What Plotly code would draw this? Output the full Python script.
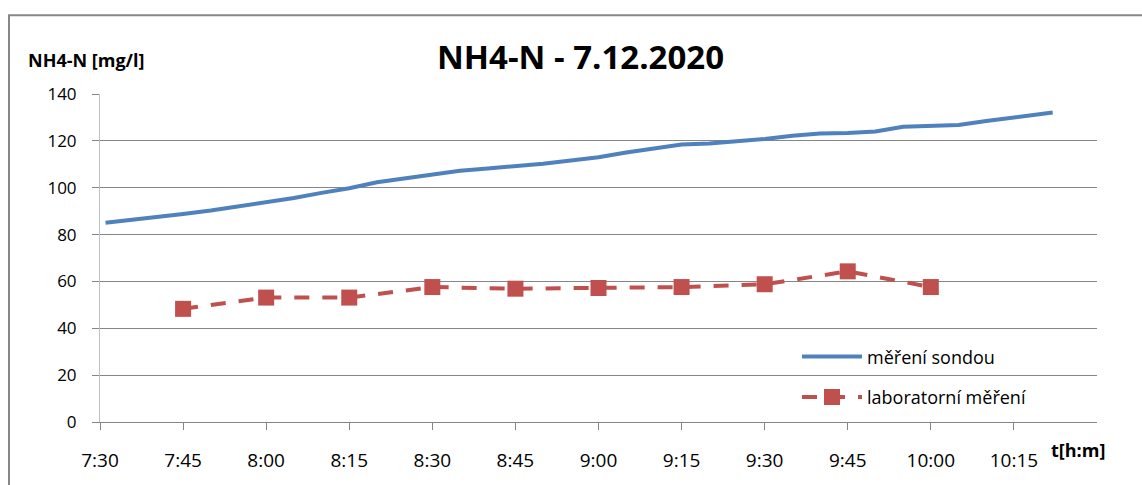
import plotly.graph_objects as go

DAY = "2020-12-07 "

# Probe readings (continuous measurement)
probe_times = ["07:31", "07:35", "07:40", "07:45", "07:50", "07:55", "08:00", "08:05",
               "08:10", "08:15", "08:20", "08:25", "08:30", "08:35", "08:40", "08:45",
               "08:50", "08:55", "09:00", "09:05", "09:10", "09:15", "09:20", "09:25",
               "09:30", "09:35", "09:40", "09:45", "09:50", "09:55", "10:00", "10:05",
               "10:10", "10:15", "10:22"]
probe_values = [85.0, 86.0, 87.5, 88.8, 90.3, 92.0, 93.6, 95.6,
                97.8, 99.8, 102.3, 103.8, 105.4, 107.2, 108.2, 109.0,
                110.2, 111.6, 113.0, 115.0, 116.6, 118.4, 118.9, 119.8,
                120.8, 122.2, 123.1, 123.4, 124.0, 126.0, 126.5, 126.8,
                128.5, 130.0, 132.1]

# Laboratory samples
lab_times = ["07:45", "08:00", "08:15", "08:30", "08:45", "09:00", "09:15", "09:30",
             "09:45", "10:00"]
lab_values = [48.3, 53.1, 53.1, 57.6, 56.9, 57.2, 57.6, 58.8, 64.3, 57.6]

# Axis ticks
tick_times = ["07:30", "07:45", "08:00", "08:15", "08:30", "08:45", "09:00", "09:15",
              "09:30", "09:45", "10:00", "10:15"]
tick_labels = ["7:30", "7:45", "8:00", "8:15", "8:30", "8:45", "9:00", "9:15",
               "9:30", "9:45", "10:00", "10:15"]
y_ticks = [0, 20, 40, 60, 80, 100, 120, 140]

FONT = "Open Sans"
GRID = "#868686"

fig = go.Figure()
fig.add_trace(go.Scatter(
    x=[DAY + t for t in probe_times], y=probe_values,
    mode="lines", name="měření sondou",
    line=dict(color="#4F81BD", width=4),
    legendgroup="a",
))
fig.add_trace(go.Scatter(
    x=[DAY + t for t in lab_times], y=lab_values,
    mode="lines+markers", name="laboratorní měření",
    line=dict(color="#C0504D", width=4, dash="15px,13px"),
    marker=dict(symbol="square", size=16, color="#C0504D"),
    legendgroup="b",
))

L, R, T, B = 100, 45, 94, 58
W, H = 1142, 485
pw, ph = W - L - R, H - T - B


def px(xp):
    return (xp - L) / pw


def py(yp):
    return (H - B - yp) / ph


fig.update_layout(
    width=W, height=H,
    margin=dict(l=L, r=R, t=T, b=B, pad=0),
    paper_bgcolor="white", plot_bgcolor="white",
    font=dict(family=FONT, color="#000000"),
    showlegend=True,
    legend=dict(
        x=px(797), y=py(342), xanchor="left", yanchor="top",
        bgcolor="rgba(0,0,0,0)", borderwidth=0,
        font=dict(family=FONT, size=18, color="#000000"),
        itemwidth=60, tracegroupgap=14, traceorder="grouped",
    ),
    xaxis=dict(
        type="date",
        range=[DAY + "07:30", DAY + "10:30"],
        tickvals=[DAY + t for t in tick_times], ticktext=tick_labels,
        showgrid=False, zeroline=False,
        showline=True, linecolor=GRID, linewidth=1,
        ticks="outside", ticklen=7, tickcolor=GRID, tickwidth=1,
        tickfont=dict(family=FONT, size=19, color="#000000"),
        ticklabelstandoff=14,
    ),
    yaxis=dict(
        range=[0, 140], tickvals=y_ticks,
        showgrid=True, gridcolor=GRID, gridwidth=1,
        zeroline=False,
        showline=True, linecolor="#BFBFBF", linewidth=1,
        ticks="outside", ticklen=7, tickcolor=GRID, tickwidth=1,
        tickfont=dict(family=FONT, size=17, color="#000000"),
        ticklabelstandoff=12,
    ),
    shapes=[dict(
        type="rect", xref="paper", yref="paper",
        x0=px(9), x1=px(1150), y0=py(495), y1=py(14),
        line=dict(color="#878787", width=2), fillcolor="rgba(0,0,0,0)",
        layer="below",
    )],
    annotations=[
        dict(text="<b>NH4-N - 7.12.2020</b>", xref="paper", yref="paper",
             x=px(580), y=py(56), xanchor="center", yanchor="middle",
             showarrow=False, font=dict(family=FONT, size=33, color="#000000")),
        dict(text="<b>NH4-N [mg/l]</b>", xref="paper", yref="paper",
             x=px(86), y=py(59), xanchor="center", yanchor="middle",
             showarrow=False, font=dict(family=FONT, size=18, color="#000000")),
        dict(text="<b>t[h:m]</b>", xref="paper", yref="paper",
             x=px(1078), y=py(455), xanchor="center", yanchor="middle",
             showarrow=False, font=dict(family=FONT, size=18, color="#000000")),
    ],
)

fig.write_html("out.html")
